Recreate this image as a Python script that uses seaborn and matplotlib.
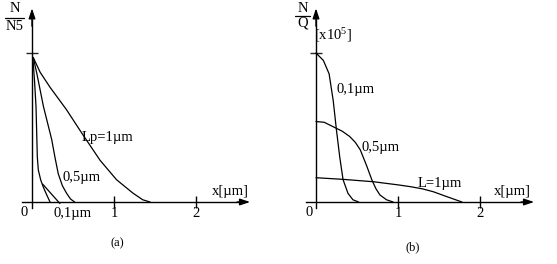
import numpy as np
import pandas as pd
import matplotlib
matplotlib.use("Agg")
import matplotlib.pyplot as plt
import seaborn as sns

# ---- data ----
# panel (a): N/N5 vs x[um]
a_lp1_x = [0.015, 0.10, 0.22, 0.42, 0.61, 0.83, 1.03, 1.23, 1.35, 1.44]
a_lp1_y = [0.97, 0.87, 0.77, 0.62, 0.46, 0.28, 0.15, 0.06, 0.015, 0.0]
a_lp05_x = [0.015, 0.06, 0.10, 0.14, 0.19, 0.24, 0.28, 0.32, 0.37, 0.42, 0.47, 0.52]
a_lp05_y = [0.97, 0.86, 0.75, 0.64, 0.53, 0.42, 0.30, 0.19, 0.11, 0.06, 0.02, 0.0]
a_lp01_x = [0.010, 0.030, 0.049, 0.065, 0.077, 0.106, 0.138, 0.18, 0.22]
a_lp01_y = [0.97, 0.82, 0.64, 0.30, 0.215, 0.148, 0.10, 0.047, 0.0]

# panel (b): N/Q [x10^5] vs x[um]
b_01_x = [0.0, 0.09, 0.16, 0.21, 0.25, 0.29, 0.33, 0.39, 0.45, 0.52]
b_01_y = [1.0, 0.95, 0.86, 0.68, 0.48, 0.30, 0.15, 0.058, 0.015, 0.0]
b_05_x = [0.0, 0.10, 0.21, 0.32, 0.41, 0.48, 0.54, 0.62, 0.68, 0.73, 0.78, 0.86, 0.94]
b_05_y = [0.54, 0.535, 0.505, 0.475, 0.44, 0.40, 0.35, 0.24, 0.15, 0.09, 0.047, 0.015, 0.0]
b_1_x = [0.0, 0.33, 0.70, 1.00, 1.15, 1.30, 1.43, 1.60, 1.78]
b_1_y = [0.163, 0.152, 0.136, 0.115, 0.103, 0.088, 0.069, 0.035, 0.0]

x_ticks = [1, 2]
x_tick_labels = ["1", "2"]

# ---- style ----
sns.set_style("white")
plt.rcParams["font.family"] = ["Liberation Serif", "DejaVu Serif"]
plt.rcParams["mathtext.fontset"] = "custom"
plt.rcParams["mathtext.rm"] = "Liberation Serif"
plt.rcParams["mathtext.default"] = "regular"

W, H = 557, 264
fig = plt.figure(figsize=(W / 100, H / 100), dpi=100)
FS = 10.5

def fx(px, py):
    return px / W, 1 - py / H

def build(curves):
    rows = []
    for name, xs, ys in curves:
        for x, y in zip(xs, ys):
            rows.append((name, x, y))
    return pd.DataFrame(rows, columns=["curve", "x", "y"])

df_a = build([("1", a_lp1_x, a_lp1_y), ("0.5", a_lp05_x, a_lp05_y), ("0.1", a_lp01_x, a_lp01_y)])
df_b = build([("0.1", b_01_x, b_01_y), ("0.5", b_05_x, b_05_y), ("1", b_1_x, b_1_y)])

ax1 = fig.add_axes([0, 0, 278 / W, 1])
ax2 = fig.add_axes([280 / W, 0, 277 / W, 1])
ax1.set_xlim((0 - 32) / 82, (278 - 32) / 82)
ax2.set_xlim((280 - 316) / 82, (557 - 316) / 82)
for ax in (ax1, ax2):
    ax.set_ylim((202 - 264) / 149, 202 / 149)
    ax.patch.set_alpha(0)

ARROW = "-|>,head_length=0.6,head_width=0.2"
for ax, df in ((ax1, df_a), (ax2, df_b)):
    sns.lineplot(data=df, x="x", y="y", units="curve", estimator=None, sort=False,
                 color="black", lw=0.9, ax=ax, legend=False)
    ax.set_xlabel("")
    ax.set_ylabel("")
    for s in ("top", "right"):
        ax.spines[s].set_visible(False)
    ax.spines["left"].set_position(("data", 0))
    ax.spines["bottom"].set_position(("data", 0))
    ax.spines["left"].set_bounds(-0.04, 1.22)
    ax.spines["bottom"].set_bounds(-0.12, 2.55)
    for s in ("left", "bottom"):
        ax.spines[s].set_linewidth(1.0)
        ax.spines[s].set_color("black")
    ax.set_xticks(x_ticks)
    ax.set_xticklabels(x_tick_labels)
    ax.set_yticks([1.0])
    ax.set_yticklabels([""])
    ax.tick_params(axis="x", direction="inout", length=9, width=1.0, pad=-1,
                   labelsize=FS, colors="black", bottom=True)
    ax.tick_params(axis="y", direction="inout", length=8, width=1.0, left=True)
    # arrow heads
    ax.annotate("", xy=(2.66, 0), xytext=(2.5, 0),
                arrowprops=dict(arrowstyle=ARROW, mutation_scale=10, lw=1.0,
                                color="black", shrinkA=0, shrinkB=0))
    ax.annotate("", xy=(0, 1.30), xytext=(0, 1.18),
                arrowprops=dict(arrowstyle=ARROW, mutation_scale=10, lw=1.0,
                                color="black", shrinkA=0, shrinkB=0))

# leader line for the 0,1um label in (a)
ax1.annotate("", xy=(0.13, 0.12), xytext=(0.34, -0.01),
             arrowprops=dict(arrowstyle="-", lw=0.9, color="black", shrinkA=0, shrinkB=0))

def t(px, py, s, fs=FS, ha="center", va="center"):
    fig.text(*fx(px, py), s, fontsize=fs, ha=ha, va=va, color="black")

# panel (a) texts
t(15, 9, "N")
fig.add_artist(plt.Line2D([5 / W, 24 / W], [1 - 17.7 / H, 1 - 17.7 / H], color="black", lw=0.9))
t(15, 26, "N5")
t(107, 138, "Lp=1µm")
t(82, 177, "0,5µm")
t(73, 213, "0,1µm")
t(24, 213, "0")
t(230, 191, "x[µm]")
t(117, 243, "(a)", fs=9)

# panel (b) texts
t(303, 8, "N")
fig.add_artist(plt.Line2D([295 / W, 310 / W], [1 - 16 / H, 1 - 16 / H], color="black", lw=0.9))
t(303, 23, "Q")
t(333, 35, "[x10$^{5}$]")
t(356, 90, "0,1µm")
t(381, 148, "0,5µm")
t(440, 183, "L=1µm")
t(309, 213, "0")
t(512, 191, "x[µm]")
t(413, 247, "(b)", fs=9)

fig.savefig("out.png", dpi=100)
